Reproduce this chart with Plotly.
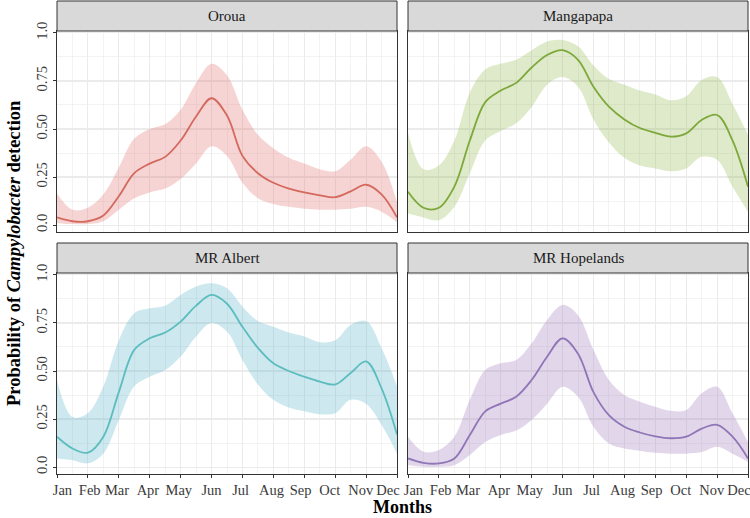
import plotly.graph_objects as go

# ---------------- data ----------------
months = [1, 1.5, 2, 2.5, 3, 3.5, 4, 4.5, 5, 5.5, 6, 6.5, 7, 7.5, 8, 8.5, 9, 9.5, 10, 10.5, 11, 11.5, 12]
month_labels = ["Jan", "Feb", "Mar", "Apr", "May", "Jun", "Jul", "Aug", "Sep", "Oct", "Nov", "Dec"]
month_ticks = [1, 2, 3, 4, 5, 6, 7, 8, 9, 10, 11, 12]
y_ticks = [0, 0.25, 0.5, 0.75, 1.0]
y_tick_labels = ["0.0", "0.25", "0.50", "0.75", "1.0"]

sites = ["Oroua", "Mangapapa", "MR Albert", "MR Hopelands"]

oroua_mean = [0.04, 0.02, 0.02, 0.05, 0.15, 0.27, 0.32, 0.355, 0.44, 0.565, 0.66, 0.57, 0.36, 0.27, 0.22, 0.19, 0.17, 0.155, 0.145, 0.175, 0.21, 0.16, 0.04]
oroua_low = [0.01, 0.005, 0.005, 0.02, 0.08, 0.14, 0.17, 0.19, 0.24, 0.32, 0.41, 0.36, 0.22, 0.14, 0.11, 0.095, 0.085, 0.08, 0.08, 0.085, 0.095, 0.07, 0.015]
oroua_up = [0.165, 0.08, 0.09, 0.16, 0.30, 0.45, 0.50, 0.525, 0.60, 0.74, 0.84, 0.78, 0.60, 0.47, 0.40, 0.35, 0.32, 0.29, 0.28, 0.34, 0.41, 0.33, 0.12]

manga_mean = [0.173, 0.09, 0.09, 0.20, 0.44, 0.64, 0.70, 0.74, 0.82, 0.885, 0.91, 0.86, 0.72, 0.616, 0.55, 0.505, 0.48, 0.46, 0.477, 0.547, 0.573, 0.44, 0.20]
manga_low = [0.06, 0.04, 0.025, 0.095, 0.27, 0.44, 0.49, 0.53, 0.615, 0.73, 0.77, 0.72, 0.55, 0.43, 0.35, 0.31, 0.295, 0.28, 0.295, 0.355, 0.34, 0.20, 0.07]
manga_up = [0.48, 0.29, 0.31, 0.44, 0.69, 0.81, 0.84, 0.86, 0.91, 0.955, 0.963, 0.93, 0.83, 0.76, 0.73, 0.70, 0.68, 0.65, 0.67, 0.755, 0.77, 0.63, 0.47]

albert_mean = [0.158, 0.097, 0.075, 0.158, 0.39, 0.61, 0.67, 0.70, 0.757, 0.84, 0.896, 0.85, 0.73, 0.62, 0.54, 0.50, 0.47, 0.445, 0.43, 0.49, 0.55, 0.41, 0.17]
albert_low = [0.045, 0.036, 0.02, 0.07, 0.245, 0.42, 0.47, 0.505, 0.575, 0.68, 0.75, 0.705, 0.557, 0.43, 0.35, 0.31, 0.29, 0.275, 0.28, 0.35, 0.33, 0.22, 0.07]
albert_up = [0.453, 0.26, 0.28, 0.42, 0.66, 0.80, 0.826, 0.84, 0.896, 0.94, 0.957, 0.93, 0.835, 0.76, 0.73, 0.70, 0.68, 0.65, 0.66, 0.74, 0.76, 0.62, 0.42]

hope_mean = [0.045, 0.022, 0.019, 0.045, 0.167, 0.29, 0.33, 0.366, 0.453, 0.574, 0.67, 0.59, 0.39, 0.27, 0.21, 0.18, 0.16, 0.15, 0.158, 0.20, 0.22, 0.158, 0.045]
hope_low = [0.01, 0.002, 0.002, 0.01, 0.0625, 0.13, 0.167, 0.19, 0.245, 0.33, 0.418, 0.366, 0.21, 0.123, 0.097, 0.085, 0.074, 0.07, 0.07, 0.078, 0.106, 0.07, 0.028]
hope_up = [0.158, 0.08, 0.089, 0.158, 0.35, 0.505, 0.54, 0.557, 0.644, 0.766, 0.844, 0.79, 0.61, 0.453, 0.375, 0.34, 0.314, 0.293, 0.297, 0.384, 0.418, 0.28, 0.13]

series = [
    (oroua_mean, oroua_low, oroua_up),
    (manga_mean, manga_low, manga_up),
    (albert_mean, albert_low, albert_up),
    (hope_mean, hope_low, hope_up),
]
line_colors = ["#D4695E", "#7DA83A", "#5BBDBF", "#9076B6"]
fill_colors = ["rgba(226,120,118,0.32)", "rgba(150,185,80,0.30)", "rgba(90,180,200,0.30)", "rgba(160,120,190,0.30)"]

# label nudges as in the reference (no-break space padding: >0 pads left, <0 pads right)
NB = "\u00a0"
label_nudge = {"Jan": 3, "Feb": 1, "Mar": -1, "Apr": -1, "May": -1, "Jul": -1, "Aug": -1,
               "Sep": -2, "Oct": -3, "Nov": -3, "Dec": -5}


def pad(lbl):
    n = label_nudge.get(lbl, 0)
    return NB * n + lbl if n > 0 else lbl + NB * (-n)


shown_labels = [pad(m) for m in month_labels]

# ---------------- layout geometry (paper fractions) ----------------
W, H = 750, 518
ML, MR, MT, MB = 57, 2, 1, 44
PW, PH = W - ML - MR, H - MT - MB


def px_x(p):
    return (p - ML) / PW


def px_y(p):
    return (H - MB - p) / PH


x_doms = [[px_x(57), px_x(397)], [px_x(408), px_x(748)]]
y_doms = [[px_y(232), px_y(31)], [px_y(474), px_y(273)]]
strip_y = [[px_y(31), px_y(1)], [px_y(273), px_y(243)]]

fig = go.Figure()
font_family = "Liberation Serif"
grid_col = "#EBEBEB"
border_col = "#333333"
tick_size = 14.5

layout = dict(
    width=W, height=H,
    margin=dict(l=ML, r=MR, t=MT, b=MB, autoexpand=False),
    paper_bgcolor="white", plot_bgcolor="white",
    showlegend=False,
    font=dict(family=font_family, size=14, color="#4D4D4D"),
)

shapes = []
annotations = []
for i, site in enumerate(sites):
    row, col = divmod(i, 2)
    idx = i + 1
    xa = "x" if idx == 1 else f"x{idx}"
    ya = "y" if idx == 1 else f"y{idx}"
    mean, low, up = series[i]
    fig.add_trace(go.Scatter(x=months, y=low, mode="lines", line=dict(width=0, shape="spline", smoothing=1.0),
                             xaxis=xa, yaxis=ya, hoverinfo="skip"))
    fig.add_trace(go.Scatter(x=months, y=up, mode="lines", line=dict(width=0, shape="spline", smoothing=1.0),
                             fill="tonexty", fillcolor=fill_colors[i], xaxis=xa, yaxis=ya, hoverinfo="skip"))
    fig.add_trace(go.Scatter(x=months, y=mean, mode="lines",
                             line=dict(width=1.8, color=line_colors[i], shape="spline", smoothing=1.0),
                             xaxis=xa, yaxis=ya))

    xkey = "xaxis" if idx == 1 else f"xaxis{idx}"
    ykey = "yaxis" if idx == 1 else f"yaxis{idx}"
    show_x = row == 1
    show_y = col == 0
    layout[xkey] = dict(
        domain=x_doms[col], anchor=ya, range=[1, 12], automargin=False,
        tickmode="array", tickvals=month_ticks, ticktext=shown_labels, ticklabeloverflow="allow",
        tickangle=0,
        showticklabels=show_x, ticks="outside" if show_x else "", ticklen=3, tickcolor=border_col,
        tickfont=dict(family=font_family, size=tick_size, color="#3A3A3A"),
        showgrid=True, gridcolor=grid_col, gridwidth=1.1,
        minor=dict(showgrid=True, gridcolor=grid_col, gridwidth=0.6, dtick=0.5, tick0=1),
        showline=True, linecolor=border_col, linewidth=1, mirror=True,
        zeroline=False, fixedrange=True,
    )
    layout[ykey] = dict(
        domain=y_doms[row], anchor=xa, range=[-0.036, 1.01], automargin=False,
        tickmode="array", tickvals=y_ticks, ticktext=y_tick_labels, tickangle=-90,
        showticklabels=show_y, ticks="outside" if show_y else "", ticklen=3, tickcolor=border_col,
        tickfont=dict(family=font_family, size=tick_size, color="#3A3A3A"),
        showgrid=True, gridcolor=grid_col, gridwidth=1.1,
        minor=dict(showgrid=True, gridcolor=grid_col, gridwidth=0.6, dtick=0.125, tick0=0),
        showline=True, linecolor=border_col, linewidth=1, mirror=True,
        zeroline=False, fixedrange=True,
    )
    # strip
    shapes.append(dict(type="rect", xref="paper", yref="paper",
                       x0=x_doms[col][0], x1=x_doms[col][1], y0=strip_y[row][0], y1=strip_y[row][1],
                       fillcolor="#D9D9D9", line=dict(color=border_col, width=1), layer="above"))
    annotations.append(dict(text=site, xref="paper", yref="paper",
                            x=(x_doms[col][0] + x_doms[col][1]) / 2, y=(strip_y[row][0] + strip_y[row][1]) / 2,
                            xanchor="center", yanchor="middle", showarrow=False,
                            font=dict(family=font_family, size=15, color="#1A1A1A")))

annotations.append(dict(text="<b>Months</b>", xref="paper", yref="paper",
                        x=0.5, y=px_y(507), xanchor="center", yanchor="middle", showarrow=False,
                        font=dict(family=font_family, size=18, color="black")))
annotations.append(dict(text="<b>Probability of <i>Campylobacter</i> detection</b>", xref="paper", yref="paper",
                        x=px_x(14), y=px_y(253), xanchor="center", yanchor="middle", showarrow=False,
                        textangle=-90, font=dict(family=font_family, size=18.5, color="black")))

layout["shapes"] = shapes
layout["annotations"] = annotations
fig.update_layout(**layout)
fig.write_html("out.html", config={"displayModeBar": False, "staticPlot": True},
               post_script="document.body.style.margin='0px';document.body.style.overflow='hidden';")
